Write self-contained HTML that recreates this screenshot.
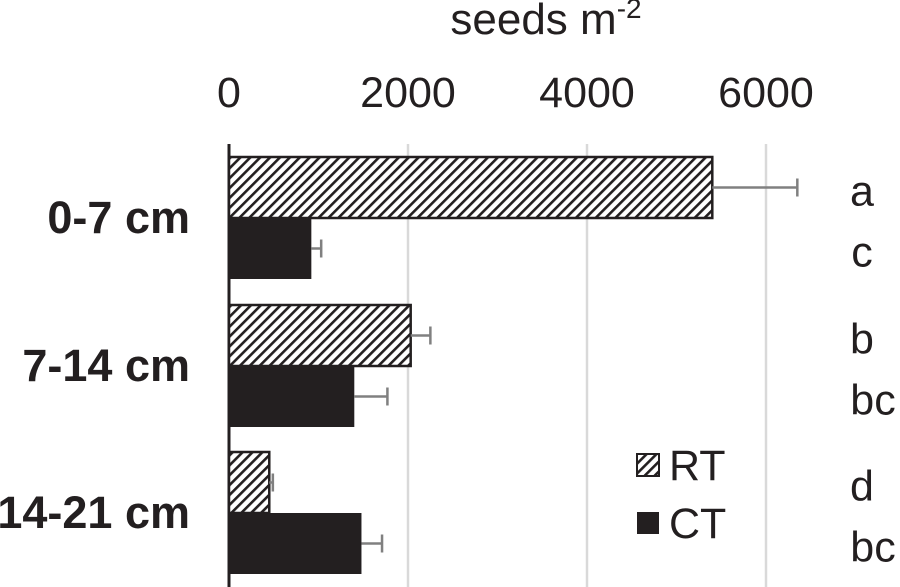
<!DOCTYPE html>
<html><head><meta charset="utf-8"><style>
body{margin:0;background:#fff;}
svg{display:block;font-family:"Liberation Sans",Arial,sans-serif;}
</style></head><body>
<svg id="chart" width="900" height="587" viewBox="0 0 900 587">
<defs>
<pattern id="hatch" patternUnits="userSpaceOnUse" width="7" height="7" patternTransform="rotate(45)">
<rect width="7" height="7" fill="#fff"/>
<rect x="0" y="0" width="2.6" height="7" fill="#231f20"/>
</pattern>
</defs>
<text x="546" y="34" font-size="44" text-anchor="middle" fill="#231f20">seeds m<tspan font-size="28" dy="-16">-2</tspan></text>
<g id="grid"></g>
<g id="bars"></g>
<g id="labels"></g>
<g>
<g>
<rect x="637" y="454" width="22" height="22" fill="url(#hatch)" stroke="#231f20" stroke-width="2"/>
<text x="669" y="480" font-size="43" fill="#231f20">RT</text></g>
<g>
<rect x="637" y="512" width="22" height="22" fill="#231f20"/>
<text x="669" y="538" font-size="43" fill="#231f20">CT</text></g>
</g>
</svg>
<script>
const categories = ["0-7 cm","7-14 cm","14-21 cm"];
const rtValues = [5400, 2030, 450];
const rtErrors = [950, 220, 40];
const ctValues = [920, 1400, 1480];
const ctErrors = [110, 370, 230];
const rtLetters = ["a","b","d"];
const ctLetters = ["c","bc","bc"];
const ticks = [0, 2000, 4000, 6000];

const NS = "http://www.w3.org/2000/svg";
const x0 = 229, pxPer = (766 - 229) / 6000;
const xs = v => x0 + v * pxPer;
const groupTop = [157, 305, 452], barH = 61;
function mk(tag, attrs, parent){const e=document.createElementNS(NS,tag);for(const k in attrs)e.setAttribute(k,attrs[k]);parent.appendChild(e);return e;}
const grid = document.getElementById('grid'), bars = document.getElementById('bars'), labels = document.getElementById('labels');

ticks.forEach((t,i)=>{
  if(t>0){const g=mk('line',{x1:xs(t),x2:xs(t),y1:144,y2:587,stroke:'#d9d9d9','stroke-width':2.5},grid);
  
  }
  const tx=mk('text',{x:xs(t),y:107,'font-size':43,'text-anchor':'middle',fill:'#231f20'},labels);
  tx.textContent=t;
  
  
});
const ax=mk('line',{x1:x0,x2:x0,y1:144,y2:587,stroke:'#231f20','stroke-width':3},grid);



categories.forEach((c,i)=>{
  const yT=groupTop[i];
  const r=mk('rect',{x:x0,y:yT,width:xs(rtValues[i])-x0,height:barH,fill:'url(#hatch)',stroke:'#231f20','stroke-width':2.5},bars);
  
  
  const b=mk('rect',{x:x0,y:yT+barH,width:xs(ctValues[i])-x0,height:barH,fill:'#231f20'},bars);
  
  
  [[rtValues[i],rtErrors[i],yT+barH/2],[ctValues[i],ctErrors[i],yT+barH*1.5]].forEach(([v,e,cy])=>{
    const g=mk('path',{d:`M${xs(v)},${cy}H${xs(v+e)}M${xs(v+e)},${cy-9}V${cy+9}`,stroke:'#808080','stroke-width':2.5,fill:'none'},bars);
    
    
  });
  const cl=mk('text',{x:190,y:yT+barH+15,'font-size':45,'font-weight':'bold','text-anchor':'end',fill:'#231f20'},labels);
  cl.textContent=c;
  
  
  const l1=mk('text',{x:862,y:yT+barH/2+18,'font-size':43,'text-anchor':'middle',fill:'#231f20'},labels);
  l1.textContent=rtLetters[i];
  
  
  const l2=mk('text',{x:ctLetters[i].length>1?873:862,y:yT+barH*1.5+18,'font-size':43,'text-anchor':'middle',fill:'#231f20'},labels);
  l2.textContent=ctLetters[i];
  
  
});
</script>
</body></html>
